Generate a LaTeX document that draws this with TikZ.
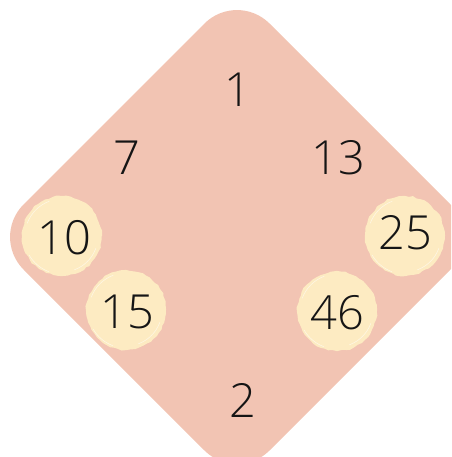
\documentclass[tikz,border=0pt]{standalone}
\usepackage{fontspec}
\newfontfamily\numfont{Open Sans Light}
\usetikzlibrary{decorations.pathmorphing}
\definecolor{salmon}{HTML}{F2C4B3}
\definecolor{paleyellow}{HTML}{FDEBC2}
\definecolor{numink}{HTML}{151515}
\tikzset{
  num/.style={font=\numfont\fontsize{47}{47}\selectfont, text=numink, inner sep=0pt},
  blob/.style={fill=paleyellow, draw=paleyellow, line width=1.5pt,
    decorate, decoration={random steps, segment length=4pt, amplitude=0.9pt}},
  brush/.style={draw=white, opacity=0.55, line width=0.6pt}
}
\begin{document}
\begin{tikzpicture}[x=1pt,y=-1pt]
\useasboundingbox (0,0) rectangle (451,457);
\clip (0,0) rectangle (451,457);
\fill[salmon, rounded corners=46pt] (237,-9) -- (483,237) -- (237,483) -- (-9,237) -- cycle;
% yellow brush circles
\foreach \cx/\cy in {62/236, 126/310, 405/236, 337/311}{
  \path[blob] (\cx,\cy) circle (39);
  \draw[brush] (\cx,\cy) ++(200:37) arc (200:250:37);
  \draw[brush] (\cx,\cy) ++(20:36) arc (20:70:36);
  \draw[brush] (\cx,\cy) ++(110:38) arc (110:150:38);
}
\node[num] (n1) at (238,90) {1};
\node[num] (n7) at (127,158) {7};
\node[num] (n13) at (338,158) {13};
\node[num] (n10) at (64,238) {10};
\node[num] (n25) at (405,233) {25};
\node[num] (n15) at (127,312) {15};
\node[num] (n46) at (337,313) {46};
\node[num] (n2) at (243,400) {2};
\end{tikzpicture}
\end{document}
